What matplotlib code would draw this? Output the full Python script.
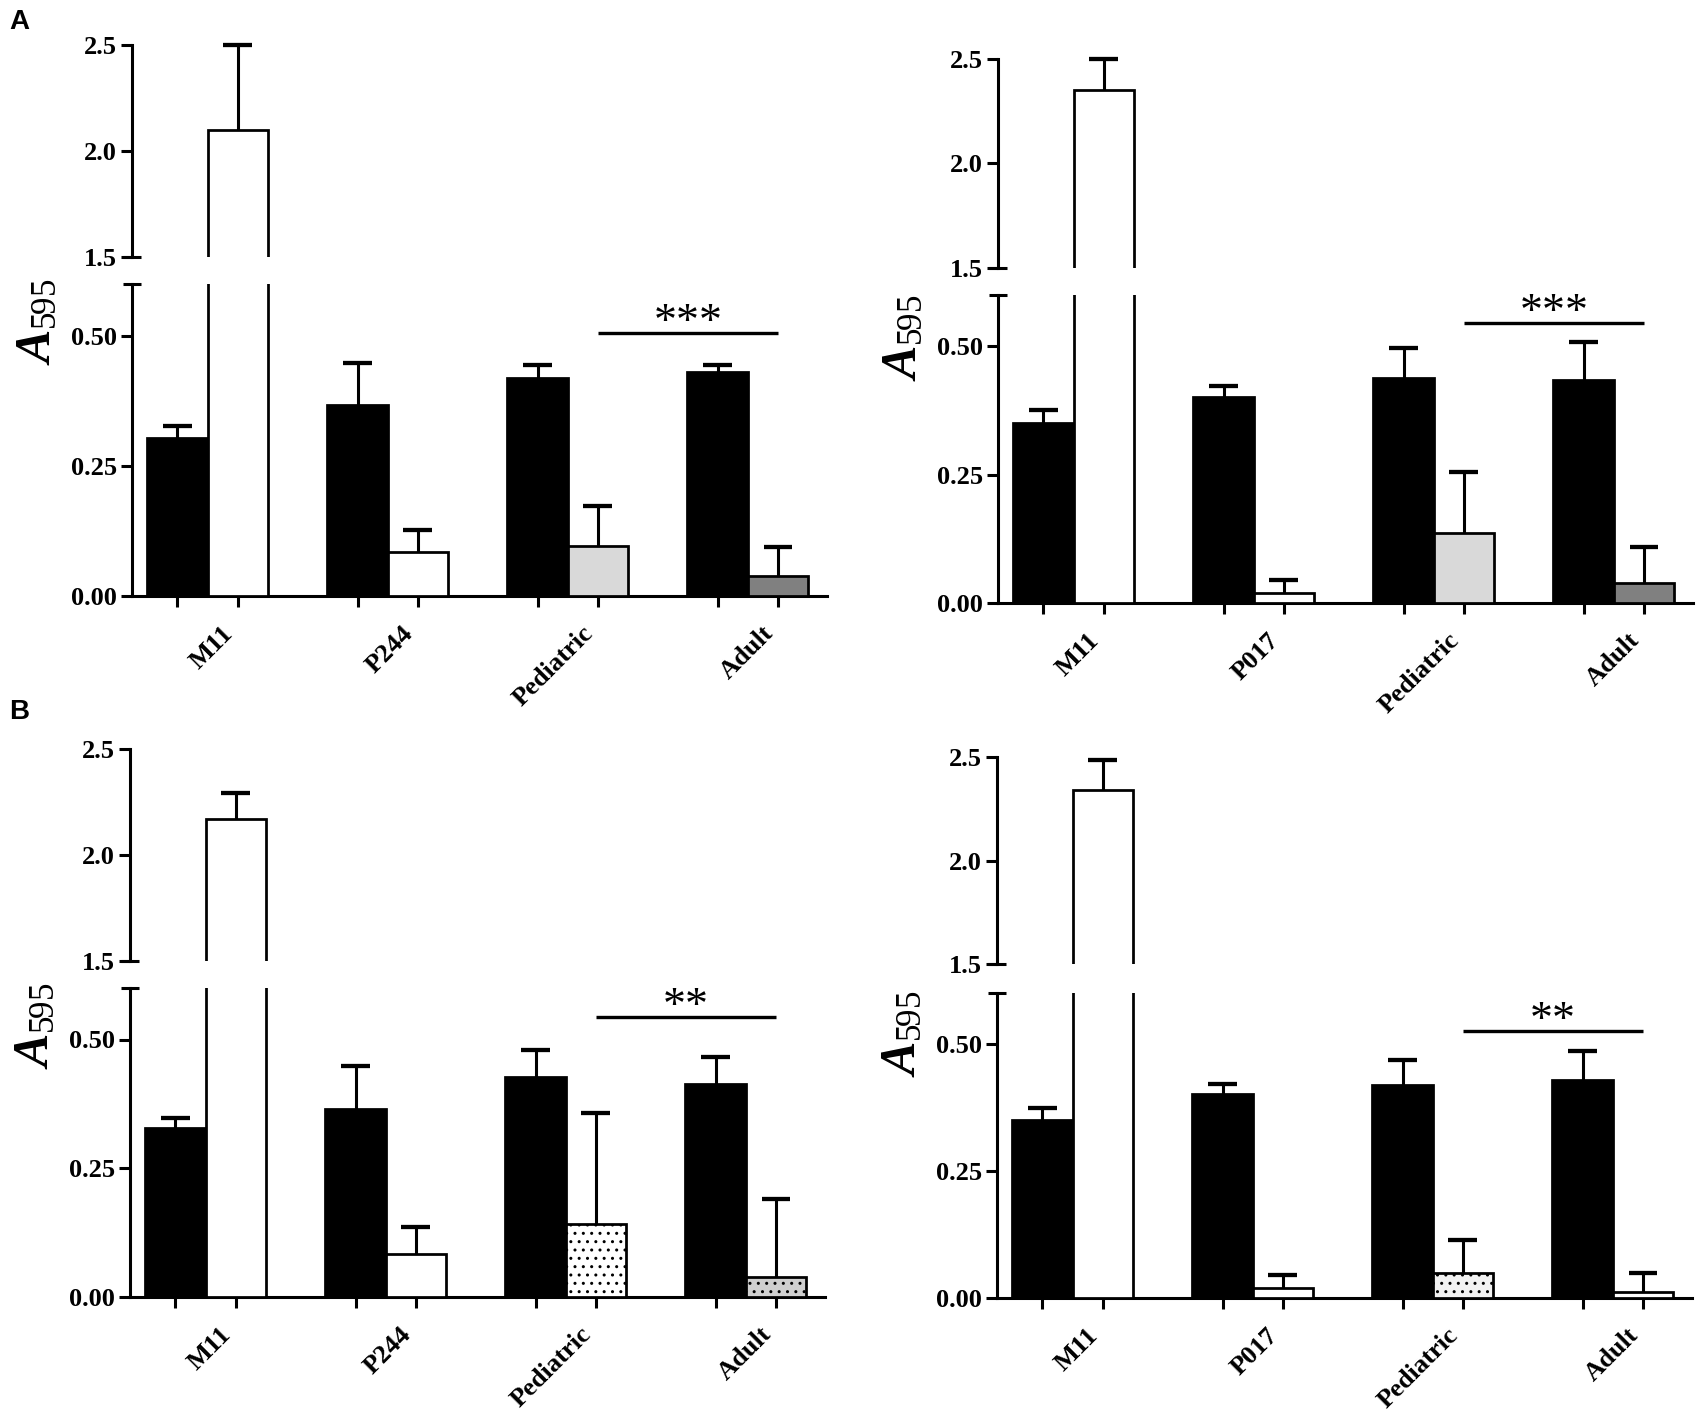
import matplotlib
matplotlib.use('Agg')
import matplotlib.pyplot as plt
from matplotlib.transforms import blended_transform_factory

plt.rcParams['font.family'] = ['Liberation Serif', 'DejaVu Serif']
plt.rcParams['mathtext.fontset'] = 'custom'
plt.rcParams['mathtext.it'] = 'Liberation Serif:italic:bold'
plt.rcParams['mathtext.rm'] = 'Liberation Serif'
plt.rcParams['hatch.linewidth'] = 1.0

# ---- data ----
cats_left = ['M11', 'P244', 'Pediatric', 'Adult']
cats_right = ['M11', 'P017', 'Pediatric', 'Adult']

# panel A, left
a1_black = [0.303, 0.367, 0.419, 0.430]
a1_black_sd = [0.023, 0.082, 0.025, 0.014]
a1_other = [2.097, 0.084, 0.097, 0.039]
a1_other_sd = [0.403, 0.043, 0.077, 0.056]

# panel A, right
a2_black = [0.350, 0.401, 0.438, 0.435]
a2_black_sd = [0.026, 0.022, 0.059, 0.074]
a2_other = [2.351, 0.019, 0.136, 0.039]
a2_other_sd = [0.149, 0.026, 0.120, 0.071]

# panel B, left
b1_black = [0.329, 0.365, 0.428, 0.413]
b1_black_sd = [0.019, 0.084, 0.051, 0.053]
b1_other = [2.168, 0.083, 0.142, 0.039]
b1_other_sd = [0.126, 0.052, 0.215, 0.152]

# panel B, right
b2_black = [0.350, 0.401, 0.419, 0.429]
b2_black_sd = [0.024, 0.020, 0.049, 0.056]
b2_other = [2.342, 0.019, 0.050, 0.012]
b2_other_sd = [0.144, 0.026, 0.064, 0.038]

sig_labels = ['***', '***', '**', '**']
sig_heights = [0.505, 0.546, 0.544, 0.526]

# fills of the second bar in each group
a_fill = ['white', 'white', '#d9d9d9', '#808080']
b1_fill = ['white', 'white', 'white', '#cfcfcf']
b2_fill = ['white', 'white', '#f2f2f2', 'white']
a_hatch = [None, None, None, None]
b1_hatch = [None, None, '..', '..']
b2_hatch = [None, None, '..', None]

W, H = 1700, 1410
fig = plt.figure(figsize=(W / 100, H / 100), dpi=100)

BW = 0.335
CAP = 0.08
XLIM = (-0.42, 3.44)
LW = 2.2
TICKFONT = dict(fontsize=19, fontweight='bold')


def add_ax(x0, x1, ytop, ybot):
    return fig.add_axes([x0 / W, 1 - ybot / H, (x1 - x0) / W, (ybot - ytop) / H])


def draw_panel(x0, ytop_hi, ybot_hi, ytop_lo, ybot_lo, cats, black, black_sd,
               other, other_sd, fills, hatches, sig, sig_y, ylab_y):
    x1 = x0 + 695
    ax_hi = add_ax(x0, x1, ytop_hi, ybot_hi)
    ax_lo = add_ax(x0, x1, ytop_lo, ybot_lo)
    xs = list(range(len(cats)))
    xb = [x - BW / 2 for x in xs]
    xo = [x + BW / 2 for x in xs]

    for ax, lim in ((ax_hi, (1.5, 2.5)), (ax_lo, (0, 0.6))):
        ax.bar(xb, black, BW, color='black', edgecolor='black', linewidth=LW * 0.9, zorder=3)
        for i in xs:
            ax.bar(xo[i], other[i], BW, color=fills[i], edgecolor='black',
                   linewidth=LW * 0.9, hatch=hatches[i], zorder=3)
        ax.set_xlim(*XLIM)
        ax.set_ylim(*lim)
        for s in ('top', 'right'):
            ax.spines[s].set_visible(False)
        ax.spines['left'].set_linewidth(LW)
        ax.tick_params(axis='y', width=LW, length=8, direction='out', pad=3)

    # upward error bars, drawn only in the axes holding the bar top
    for xv, vals, sds in ((xb, black, black_sd), (xo, other, other_sd)):
        for i in xs:
            ax = ax_hi if vals[i] > 1.5 else ax_lo
            top = vals[i] + sds[i]
            ax.plot([xv[i], xv[i]], [vals[i], top], color='black', lw=LW,
                    clip_on=False, zorder=2)
            ax.plot([xv[i] - CAP, xv[i] + CAP], [top, top], color='black', lw=LW * 1.4,
                    clip_on=False, zorder=2, solid_capstyle='butt')

    ax_hi.spines['bottom'].set_visible(False)
    ax_hi.set_xticks([])
    ax_hi.set_yticks([1.5, 2.0, 2.5])
    ax_hi.set_yticklabels(['1.5', '2.0', '2.5'], **TICKFONT)

    ax_lo.spines['bottom'].set_linewidth(LW)
    ax_lo.set_yticks([0, 0.25, 0.5])
    ax_lo.set_yticklabels(['0.00', '0.25', '0.50'], **TICKFONT)
    ax_lo.set_xticks(xb + xo)
    ax_lo.set_xticklabels([])
    ax_lo.tick_params(axis='x', width=LW, length=8, direction='out')

    # break caps on the y axis
    tr_hi = blended_transform_factory(ax_hi.transAxes, ax_hi.transData)
    ax_hi.plot([-0.013, 0.013], [1.5, 1.5], color='black', lw=LW, transform=tr_hi,
               clip_on=False, solid_capstyle='butt')
    tr_lo = blended_transform_factory(ax_lo.transAxes, ax_lo.transData)
    ax_lo.plot([-0.013, 0.013], [0.6, 0.6], color='black', lw=LW, transform=tr_lo,
               clip_on=False, solid_capstyle='butt')

    # category labels
    for i, c in enumerate(cats):
        ax_lo.annotate(c, xy=(i, 0), xycoords=('data', 'axes fraction'),
                       xytext=(30, -26), textcoords='offset pixels',
                       rotation=45, ha='right', va='top', **TICKFONT)

    # significance bar
    ax_lo.plot([xo[2], xo[3]], [sig_y, sig_y], color='black', lw=LW * 1.1,
               clip_on=False, solid_capstyle='butt')
    ax_lo.annotate(sig, xy=((xo[2] + xo[3]) / 2, sig_y), xytext=(0, -12),
                   textcoords='offset pixels', ha='center', va='bottom', fontsize=33)

    fig.text((x0 - 94) / W, 1 - ylab_y / H, r'$\mathit{A}_{595}$', rotation=90,
             ha='center', va='center', fontsize=36)


draw_panel(132, 45, 257, 284, 596, cats_left, a1_black, a1_black_sd, a1_other,
           a1_other_sd, a_fill, a_hatch, sig_labels[0], sig_heights[0], 322)
draw_panel(998, 58.5, 267.7, 295, 603, cats_right, a2_black, a2_black_sd, a2_other,
           a2_other_sd, a_fill, a_hatch, sig_labels[1], sig_heights[1], 338)
draw_panel(130, 749, 961, 988, 1297, cats_left, b1_black, b1_black_sd, b1_other,
           b1_other_sd, b1_fill, b1_hatch, sig_labels[2], sig_heights[2], 1026)
draw_panel(997, 757, 964, 993, 1298, cats_right, b2_black, b2_black_sd, b2_other,
           b2_other_sd, b2_fill, b2_hatch, sig_labels[3], sig_heights[3], 1034)

fig.text(9 / W, 1 - 22 / H, 'A', family='Liberation Sans', fontweight='bold',
         fontsize=20, ha='left', va='center')
fig.text(9 / W, 1 - 712 / H, 'B', family='Liberation Sans', fontweight='bold',
         fontsize=20, ha='left', va='center')

fig.savefig('out.png', dpi=100)
